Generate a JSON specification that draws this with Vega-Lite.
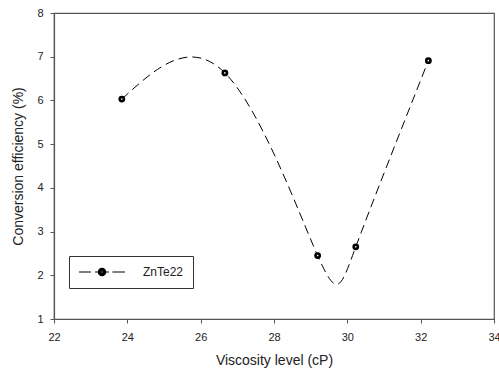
{
  "$schema": "https://vega.github.io/schema/vega-lite/v6.json",
  "width": 440,
  "height": 306,
  "autosize": "none",
  "padding": {"left": 54, "top": 13, "right": 5, "bottom": 52},
  "background": "white",
  "config": {
    "font": "Liberation Sans",
    "view": {"stroke": "#555555", "strokeWidth": 1.2},
    "axis": {
      "grid": false,
      "domainColor": "#555555",
      "domainWidth": 1.2,
      "tickColor": "#555555",
      "tickSize": 4,
      "tickWidth": 1,
      "labelFont": "Liberation Sans",
      "labelFontSize": 11,
      "labelColor": "#222222",
      "titleFont": "Liberation Sans",
      "titleFontSize": 14,
      "titleFontWeight": "normal",
      "titleColor": "#222222"
    }
  },
  "data": {
    "values": [
      {"viscosity": 23.85, "efficiency": 6.03, "series": "ZnTe22"},
      {"viscosity": 26.66, "efficiency": 6.63, "series": "ZnTe22"},
      {"viscosity": 29.19, "efficiency": 2.45, "series": "ZnTe22"},
      {"viscosity": 30.23, "efficiency": 2.65, "series": "ZnTe22"},
      {"viscosity": 32.21, "efficiency": 6.91, "series": "ZnTe22"}
    ]
  },
  "encoding": {
    "x": {
      "field": "viscosity",
      "type": "quantitative",
      "scale": {"domain": [22, 34], "nice": false, "zero": false},
      "axis": {"title": "Viscosity level (cP)", "values": [22, 24, 26, 28, 30, 32, 34], "labelPadding": 8, "titlePadding": 11, "labelFlush": false}
    },
    "y": {
      "field": "efficiency",
      "type": "quantitative",
      "scale": {"domain": [1, 8], "nice": false, "zero": false},
      "axis": {"title": "Conversion efficiency (%)", "values": [1, 2, 3, 4, 5, 6, 7, 8], "labelPadding": 7, "titlePadding": 11, "labelFlush": false}
    },
    "color": {
      "field": "series",
      "type": "nominal",
      "scale": {"range": ["black"]},
      "legend": {
        "title": null,
        "orient": "none",
        "legendX": 15,
        "legendY": 243,
        "fillColor": "white",
        "strokeColor": "#333333",
        "padding": 9,
        "clipHeight": 14,
        "symbolType": "M-1,0H-0.48M-0.3,0H-0.15M0.15,0H0.3M0.45,0H1M-0.16,0A0.16,0.16 0 1,1 0.16,0A0.16,0.16 0 1,1 -0.16,0ZM-0.05,0A0.05,0.05 0 1,0 0.05,0A0.05,0.05 0 1,0 -0.05,0Z",
        "symbolSize": 2116,
        "symbolStrokeWidth": 1.2,
        "labelFont": "Liberation Sans",
        "labelFontSize": 12,
        "labelColor": "#222222",
        "labelOffset": 17,
        "encode": {
          "symbols": {"update": {"fill": {"value": "black"}, "stroke": {"value": "black"}, "strokeDash": {"value": []}, "opacity": {"value": 1}}}
        }
      }
    }
  },
  "layer": [
    {
      "mark": {"type": "line", "interpolate": "natural", "strokeDash": [9, 5], "strokeWidth": 1}
    },
    {
      "mark": {"type": "point", "shape": "circle", "filled": false, "fill": "white", "size": 18, "strokeWidth": 2.6, "opacity": 1}
    }
  ]
}
